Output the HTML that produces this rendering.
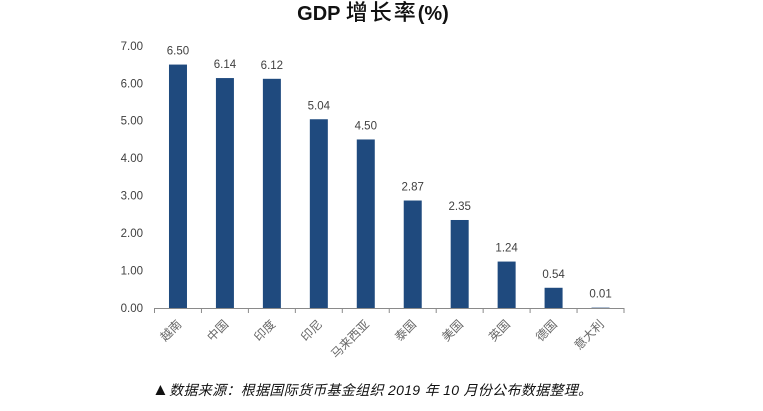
<!DOCTYPE html>
<html><head><meta charset="utf-8"><style>
html,body{margin:0;padding:0;background:#fff;}
svg{display:block;}
</style></head><body>
<svg width="763" height="411" viewBox="0 0 763 411" xmlns="http://www.w3.org/2000/svg">
<rect width="763" height="411" fill="#fff"/>
<!-- title -->
<text x="373" y="20" text-anchor="middle" font-family="Liberation Sans, 'Noto Sans CJK SC', sans-serif" font-weight="bold" font-size="20" fill="#111">GDP <tspan font-family="'Noto Sans CJK SC', sans-serif" font-size="22" font-weight="500" letter-spacing="2">增长率</tspan>(%)</text>

<!-- y labels -->
<g font-family="Liberation Sans, sans-serif" font-size="11.5" fill="#404040" text-anchor="end">
<text x="143" y="312">0.00</text>
<text x="143" y="274.5">1.00</text>
<text x="143" y="237">2.00</text>
<text x="143" y="199.6">3.00</text>
<text x="143" y="162.2">4.00</text>
<text x="143" y="124.7">5.00</text>
<text x="143" y="87.3">6.00</text>
<text x="143" y="49.8">7.00</text>
</g>

<!-- bars -->
<g fill="#1F4A7E">
<rect x="168.98" y="64.57" width="18" height="243.43"/>
<rect x="215.93" y="78.06" width="18" height="229.94"/>
<rect x="262.88" y="78.81" width="18" height="229.19"/>
<rect x="309.83" y="119.25" width="18" height="188.75"/>
<rect x="356.78" y="139.47" width="18" height="168.53"/>
<rect x="403.73" y="200.52" width="18" height="107.48"/>
<rect x="450.68" y="219.99" width="18" height="88.01"/>
<rect x="497.63" y="261.56" width="18" height="46.44"/>
<rect x="544.58" y="287.78" width="18" height="20.22"/>
<rect x="591.53" y="307.63" width="18" height="0.37"/>
</g>

<!-- data labels -->
<g font-family="Liberation Sans, sans-serif" font-size="11.5" fill="#404040" text-anchor="middle">
<text x="177.98" y="54.6">6.50</text>
<text x="224.93" y="68.1">6.14</text>
<text x="271.88" y="68.8">6.12</text>
<text x="318.83" y="109.3">5.04</text>
<text x="365.78" y="129.5">4.50</text>
<text x="412.73" y="190.5">2.87</text>
<text x="459.68" y="210">2.35</text>
<text x="506.63" y="251.6">1.24</text>
<text x="553.58" y="277.8">0.54</text>
<text x="600.53" y="297.6">0.01</text>
</g>

<!-- x axis -->
<g stroke="#8a8a8a" stroke-width="1" fill="none">
<line x1="154.5" y1="308.5" x2="624.5" y2="308.5"/>
<line x1="154.5" y1="308" x2="154.5" y2="313"/>
<line x1="201.45" y1="308" x2="201.45" y2="313"/>
<line x1="248.4" y1="308" x2="248.4" y2="313"/>
<line x1="295.35" y1="308" x2="295.35" y2="313"/>
<line x1="342.3" y1="308" x2="342.3" y2="313"/>
<line x1="389.25" y1="308" x2="389.25" y2="313"/>
<line x1="436.2" y1="308" x2="436.2" y2="313"/>
<line x1="483.15" y1="308" x2="483.15" y2="313"/>
<line x1="530.1" y1="308" x2="530.1" y2="313"/>
<line x1="577.05" y1="308" x2="577.05" y2="313"/>
<line x1="624" y1="308" x2="624" y2="313"/>
</g>

<!-- x labels -->
<g font-family="'Noto Sans CJK SC', sans-serif" font-size="12" fill="#666" text-anchor="end">
<text transform="translate(182.2,325) rotate(-45)">越南</text>
<text transform="translate(229.1,325) rotate(-45)">中国</text>
<text transform="translate(276.1,325) rotate(-45)">印度</text>
<text transform="translate(323,325) rotate(-45)">印尼</text>
<text transform="translate(370,325) rotate(-45)">马来西亚</text>
<text transform="translate(416.9,325) rotate(-45)">泰国</text>
<text transform="translate(463.9,325) rotate(-45)">美国</text>
<text transform="translate(510.8,325) rotate(-45)">英国</text>
<text transform="translate(557.8,325) rotate(-45)">德国</text>
<text transform="translate(604.7,325) rotate(-45)">意大利</text>
</g>

<!-- footer -->
<text x="152" y="395" font-family="Liberation Sans, 'Noto Sans CJK SC', sans-serif" font-style="italic" font-size="14" fill="#111" textLength="440" lengthAdjust="spacing"><tspan font-size="17" font-style="normal">▲</tspan>数据来源：根据国际货币基金组织 2019 年 10 月份公布数据整理。</text>
</svg>
</body></html>
